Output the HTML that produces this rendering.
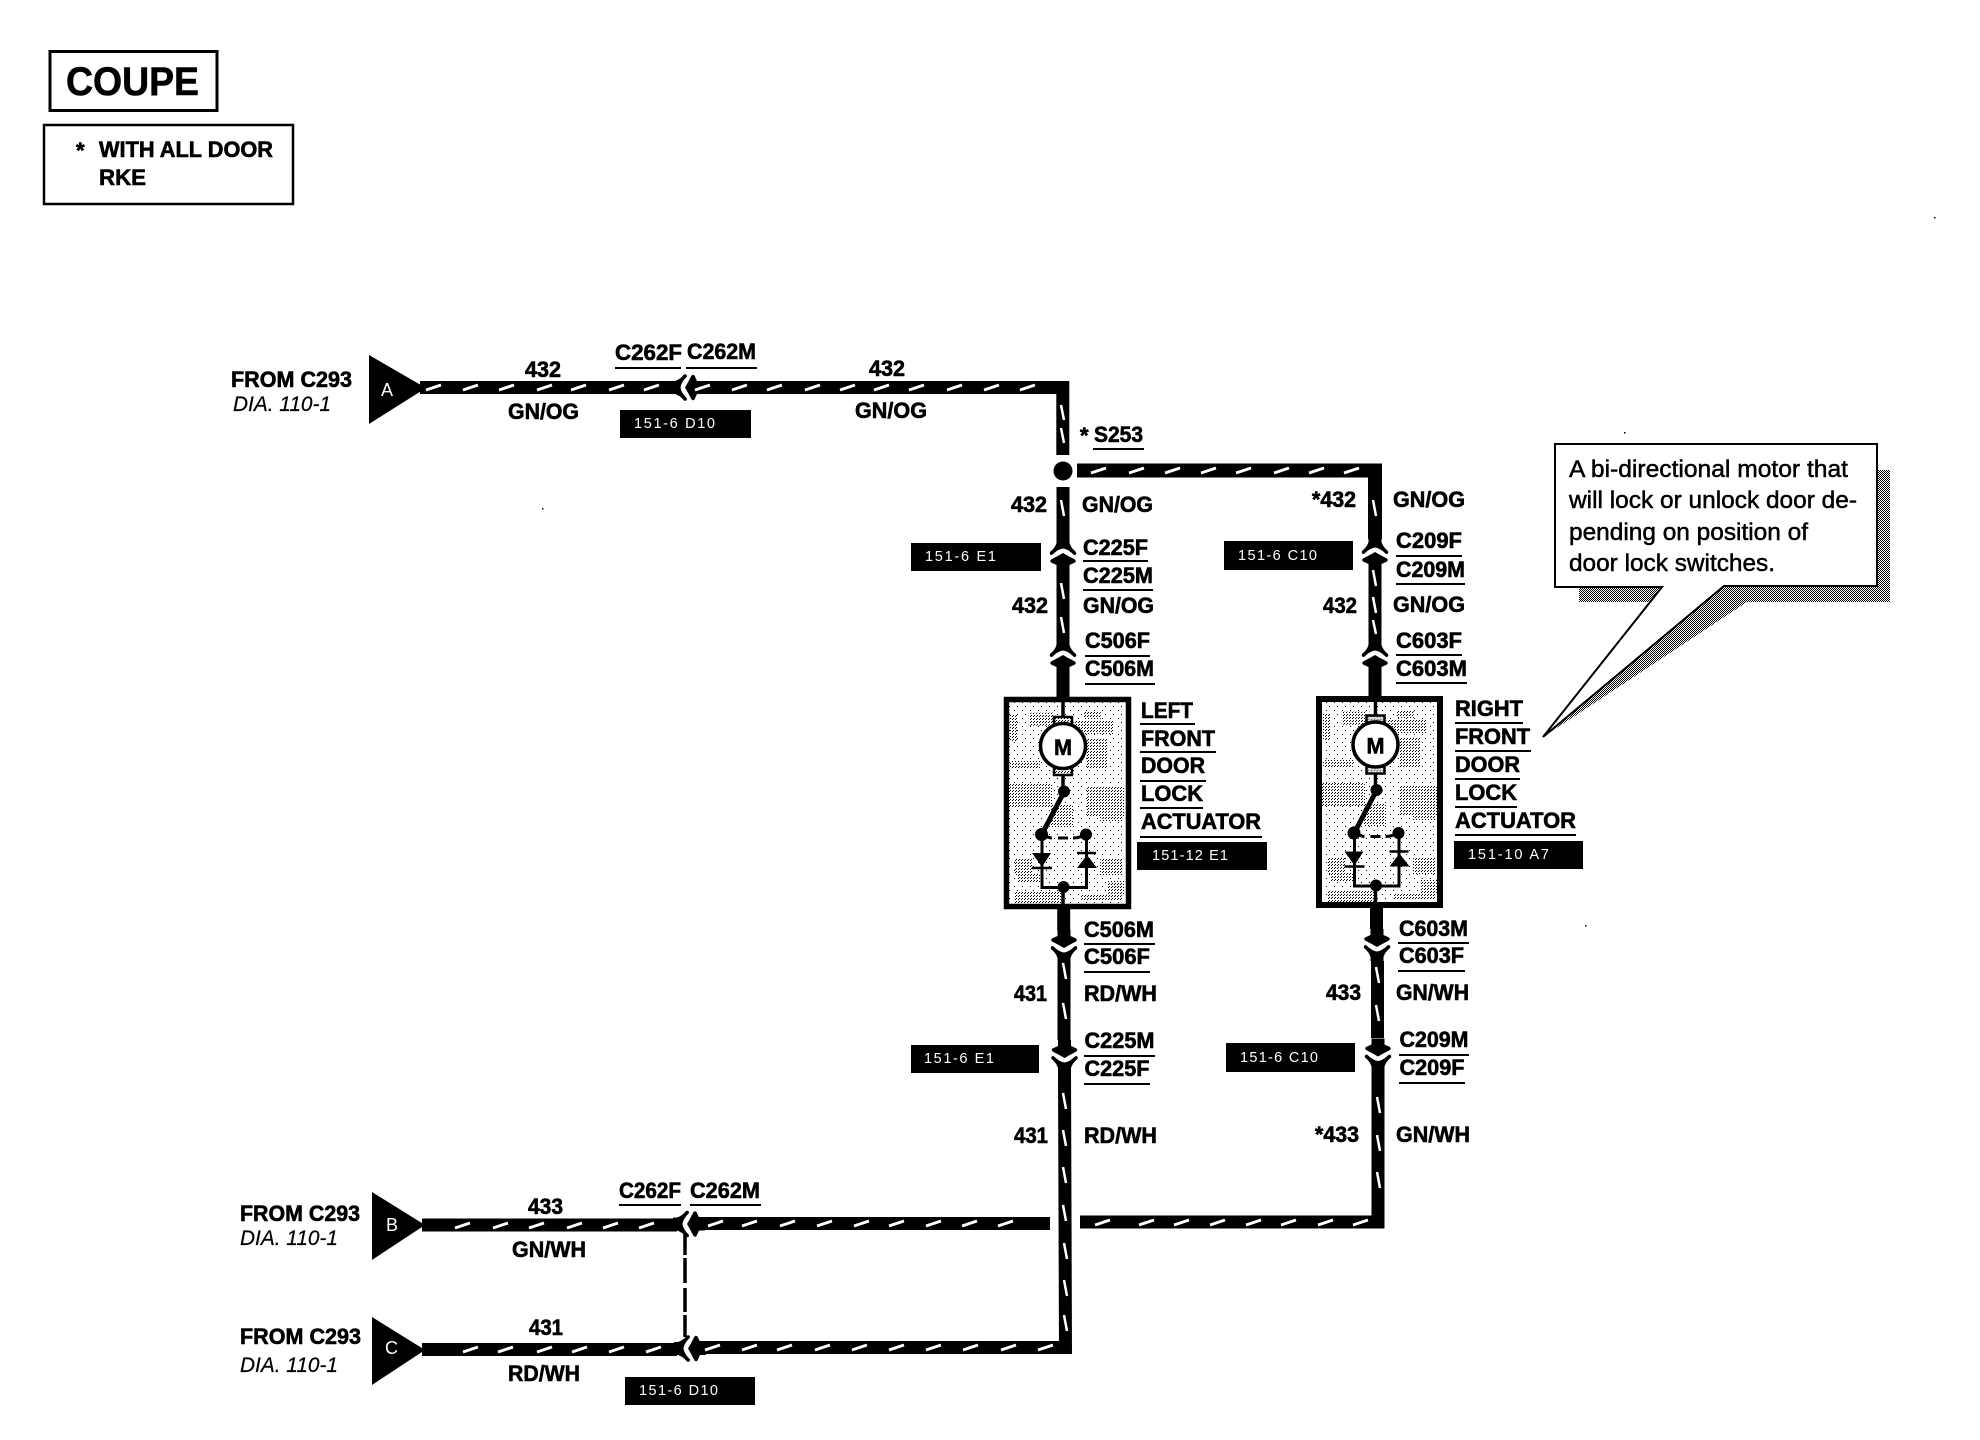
<!DOCTYPE html>
<html>
<head>
<meta charset="utf-8">
<style>
html,body{margin:0;padding:0;background:#fff}
svg{display:block}
text{font-family:"Liberation Sans",sans-serif;fill:#000}
.b{font-weight:700;font-size:22px;stroke:#000;stroke-width:.6}
.i{font-style:italic;font-size:21px;stroke:#000;stroke-width:.2}
.w{fill:#fff;font-size:14.5px}
.l{fill:#fff;font-size:18px}
.c{font-size:24px;stroke:#000;stroke-width:.5}
</style>
</head>
<body>
<svg width="1980" height="1440" viewBox="0 0 1980 1440" xmlns="http://www.w3.org/2000/svg">
<defs>
<pattern id="ck" width="2" height="2" patternUnits="userSpaceOnUse"><rect width="2" height="2" fill="#fff"/><rect width="1" height="1" fill="#000"/><rect x="1" y="1" width="1" height="1" fill="#000"/></pattern>
<pattern id="sp" width="8" height="8" patternUnits="userSpaceOnUse"><rect width="8" height="8" fill="#fff"/><rect x="1" y="2" width="1" height="1" fill="#000"/><rect x="6" y="6" width="1" height="1" fill="#000"/></pattern>
<pattern id="dn" width="3" height="3" patternUnits="userSpaceOnUse"><rect width="3" height="3" fill="#fff"/><rect width="1" height="1" fill="#000"/><rect x="2" y="1" width="1" height="1" fill="#000"/></pattern>
<g id="conn">
<path d="M-6.5,-18 L-6.5,-12 L-12,-9.5 Q-14,-7.5 -11,-6 Q-5,-3 0,0 Q5,-3 11,-6 Q14,-7.5 12,-9.5 L6.5,-12 L6.5,-18 Z"/>
<path d="M-6.5,14 L-6.5,10 Q-8,5 -13,1 Q-14,-2 -11,-2 Q-5,4 0,4.5 Q5,4 11,-2 Q14,-2 13,1 Q8,5 6.5,10 L6.5,14 Z"/>
</g>
<g id="patch" fill="url(#dn)">
<rect x="1341.7" y="711.7" width="25" height="13"/>
<rect x="1386.7" y="720" width="40" height="13"/>
<rect x="1396.7" y="710" width="17" height="8"/>
<rect x="1323" y="713" width="7" height="27"/>
<rect x="1400" y="737" width="20" height="30"/>
<rect x="1323" y="760" width="30" height="8"/>
<rect x="1322" y="783" width="43" height="23"/>
<rect x="1400" y="785" width="37" height="30"/>
<rect x="1363" y="803" width="23" height="23"/>
<rect x="1413" y="813" width="23" height="7"/>
<rect x="1328" y="857" width="17" height="17"/>
<rect x="1413" y="857" width="23" height="17"/>
<rect x="1330" y="872" width="23" height="10"/>
<rect x="1420" y="880" width="17" height="13"/>
<rect x="1327" y="890" width="47" height="12"/>
<rect x="1393" y="893" width="43" height="7"/>
</g>
<g id="act">
<path d="M1063,699V716M1063,775V792M1063,887V907" stroke="#000" stroke-width="3.5" fill="none"/>
<rect x="1054" y="717" width="18" height="8" fill="url(#dn)" stroke="#000" stroke-width="2.5"/>
<rect x="1054" y="767" width="18" height="8" fill="url(#dn)" stroke="#000" stroke-width="2.5"/>
<circle cx="1063" cy="746" r="22.5" fill="#fff" stroke="#000" stroke-width="3.5"/>
<circle cx="1064" cy="791.5" r="6"/>
<path d="M1064,792L1042,834" stroke="#000" stroke-width="5"/>
<circle cx="1041.5" cy="834.5" r="6.5"/>
<circle cx="1086" cy="834.5" r="6"/>
<path d="M1042,834Q1048,838 1052,838M1058,838H1068M1073,838Q1080,838 1086,834" stroke="#000" stroke-width="3" fill="none"/>
<path d="M1042,834V887.5H1086.5V834" stroke="#000" stroke-width="3" fill="none"/>
<polygon points="1032,853 1051,853 1042,867"/>
<path d="M1032,868H1052M1077,853H1096" stroke="#000" stroke-width="2.5"/>
<polygon points="1077,868 1097,868 1087,855"/>
<circle cx="1063.5" cy="887" r="6"/>
</g>
</defs>
<rect width="1980" height="1440" fill="#fff"/>

<!-- header boxes -->
<rect x="50" y="51.5" width="167" height="59" fill="#fff" stroke="#000" stroke-width="3"/>
<text class="b" x="66" y="95" textLength="133" lengthAdjust="spacingAndGlyphs" style="font-size:40px">COUPE</text>
<rect x="44" y="125" width="249" height="79" fill="#fff" stroke="#000" stroke-width="2.5"/>
<text class="b" x="76" y="158">*</text>
<text class="b" x="99" y="157" textLength="174" lengthAdjust="spacingAndGlyphs">WITH ALL DOOR</text>
<text class="b" x="99" y="185" textLength="47" lengthAdjust="spacingAndGlyphs">RKE</text>

<!-- wires -->
<g fill="none" stroke="#000" stroke-width="13" stroke-linejoin="miter">
<path d="M420,387.5H672M693,387.5H1062.8V455"/>
<path d="M1063,487V540M1063,570V641M1063,672V697"/>
<path d="M1077,470.5H1375V539" stroke-width="14"/>
<path d="M1375,570V641M1375,672V697"/>
<path d="M1063.7,909V930M1064,962V1040M1064.5,1072L1065.5,1354"/>
<path d="M1376.5,908V929M1377.5,961V1038M1378,1070V1222H1080"/>
<path d="M422,1225H677M698,1223.5H1050"/>
<path d="M422,1349.5H677M698,1347.5H1071.5"/>
</g>
<circle cx="1063" cy="471" r="9.5"/>
<polygon points="369,355 426,388 369,424"/>
<polygon points="372,1192 425,1225 372,1260"/>
<polygon points="372,1317 425,1350 372,1385"/>

<!-- connectors -->
<use href="#conn" transform="translate(1063,553) rotate(180)"/>
<use href="#conn" transform="translate(1063,655) rotate(180)"/>
<use href="#conn" transform="translate(1375,552) rotate(180)"/>
<use href="#conn" transform="translate(1375,655) rotate(180)"/>
<use href="#conn" transform="translate(1064,948)"/>
<use href="#conn" transform="translate(1064.5,1058)"/>
<use href="#conn" transform="translate(1377,947)"/>
<use href="#conn" transform="translate(1378,1056.5)"/>
<use href="#conn" transform="translate(685,387.5) rotate(90)"/>
<use href="#conn" transform="translate(687,1224) rotate(90)"/>
<use href="#conn" transform="translate(688,1348.5) rotate(90)"/>
<path d="M685,1233V1255M685,1258V1283M685,1288V1312M685,1315V1337" stroke="#000" stroke-width="3.5" fill="none"/>

<!-- wire dashes -->
<path fill="none" stroke="#fff" stroke-width="3" d="M426,390l15,-5M463,390l15,-5M499,390l15,-5M537,390l15,-5M571,390l15,-5M609,390l15,-5M644,390l15,-5M695,390l15,-5M732,390l15,-5M767,390l15,-5M805,390l15,-5M840,390l15,-5M874,390l15,-5M909,390l15,-5M947,390l15,-5M984,390l15,-5M1020,390l15,-5
M1091,473l15,-5M1129,473l15,-5M1165,473l15,-5M1201,473l15,-5M1236,473l15,-5M1274,473l15,-5M1309,473l15,-5M1344,473l15,-5
M455,1228l15,-5M493,1228l15,-5M529,1228l15,-5M567,1228l15,-5M603,1228l15,-5M639,1228l15,-5M708,1226l15,-5M742,1226l15,-5M780,1226l15,-5M817,1226l15,-5M854,1226l15,-5M889,1226l15,-5M926,1226l15,-5M962,1226l15,-5M998,1226l15,-5
M1095,1225l15,-5M1139,1225l15,-5M1174,1225l15,-5M1210,1225l15,-5M1246,1225l15,-5M1281,1225l15,-5M1318,1225l15,-5M1353,1225l15,-5
M463,1352l15,-5M498,1352l15,-5M537,1352l15,-5M572,1352l15,-5M609,1352l15,-5M646,1352l15,-5M705,1350l15,-5M742,1350l15,-5M777,1350l15,-5M815,1350l15,-5M852,1350l15,-5M889,1350l15,-5M926,1350l15,-5M963,1350l15,-5M1001,1350l15,-5M1038,1350l15,-5"/>
<path fill="none" stroke="#fff" stroke-width="2.5" d="M1061,405l3,15M1061,428l3,15M1061,500l3,16M1061,583l3,16M1061,617l3,16
M1063,963l3,16M1063,1003l3,16M1063,1093l3,16M1063,1130l3,16M1063,1167l3,16M1063,1205l3,16M1064,1243l3,16M1064,1280l3,16M1064,1315l3,16
M1373,500l3,16M1373,570l3,16M1373,597l3,16M1373,620l3,14
M1376,967l3,16M1376,1005l3,16M1377,1097l3,16M1377,1135l3,16M1377,1172l3,16"/>

<!-- actuators -->
<rect x="1006.5" y="699.5" width="122" height="207" fill="url(#sp)" stroke="#000" stroke-width="5.5"/>
<use href="#patch" transform="translate(-313,1)"/>
<use href="#act"/>
<rect x="1319" y="699" width="121" height="206" fill="url(#sp)" stroke="#000" stroke-width="6"/>
<use href="#patch"/>
<use href="#act" transform="translate(312.5,-1.5)"/>
<text class="b" x="1054" y="755" textLength="18" lengthAdjust="spacingAndGlyphs">M</text>
<text class="b" x="1366.5" y="753.5" textLength="18" lengthAdjust="spacingAndGlyphs">M</text>

<!-- callout -->
<path d="M1877,470H1890V602H1747L1543,737L1724,586H1877Z" fill="url(#ck)"/>
<rect x="1579" y="586" width="83" height="16" fill="url(#ck)"/>
<path d="M1555,444H1877V586H1724L1543,737L1662,587H1555Z" fill="#fff" stroke="#000" stroke-width="2"/>
<text class="c" x="1569" y="477" textLength="279" lengthAdjust="spacingAndGlyphs">A bi-directional motor that</text>
<text class="c" x="1569" y="508" textLength="288" lengthAdjust="spacingAndGlyphs">will lock or unlock door de-</text>
<text class="c" x="1569" y="540" textLength="239" lengthAdjust="spacingAndGlyphs">pending on position of</text>
<text class="c" x="1569" y="571" textLength="206" lengthAdjust="spacingAndGlyphs">door lock switches.</text>

<!-- black reference tags -->
<g>
<rect x="620" y="410" width="131" height="28"/>
<rect x="911" y="543" width="130" height="28"/>
<rect x="1224" y="541" width="129" height="29"/>
<rect x="1137" y="842" width="130" height="28"/>
<rect x="1454" y="841" width="129" height="28"/>
<rect x="911" y="1045" width="128" height="28"/>
<rect x="1226" y="1043" width="129" height="29"/>
<rect x="625" y="1377" width="130" height="28"/>
</g>
<text class="w" x="634" y="428" textLength="81" lengthAdjust="spacing">151-6 D10</text>
<text class="w" x="925" y="561" textLength="71" lengthAdjust="spacing">151-6 E1</text>
<text class="w" x="1238" y="560" textLength="79" lengthAdjust="spacing">151-6 C10</text>
<text class="w" x="1152" y="860" textLength="76" lengthAdjust="spacing">151-12 E1</text>
<text class="w" x="1468" y="859" textLength="81" lengthAdjust="spacing">151-10 A7</text>
<text class="w" x="924" y="1063" textLength="70" lengthAdjust="spacing">151-6 E1</text>
<text class="w" x="1240" y="1062" textLength="78" lengthAdjust="spacing">151-6 C10</text>
<text class="w" x="639" y="1395" textLength="79" lengthAdjust="spacing">151-6 D10</text>

<!-- triangle letters -->
<text class="l" x="381" y="396">A</text>
<text class="l" x="386" y="1231">B</text>
<text class="l" x="385" y="1354">C</text>

<!-- left labels -->
<text class="b" x="231" y="387" textLength="121" lengthAdjust="spacingAndGlyphs">FROM C293</text>
<text class="i" x="233" y="411" textLength="98" lengthAdjust="spacingAndGlyphs">DIA. 110-1</text>
<text class="b" x="240" y="1221" textLength="120" lengthAdjust="spacingAndGlyphs">FROM C293</text>
<text class="i" x="240" y="1245" textLength="98" lengthAdjust="spacingAndGlyphs">DIA. 110-1</text>
<text class="b" x="240" y="1344" textLength="121" lengthAdjust="spacingAndGlyphs">FROM C293</text>
<text class="i" x="240" y="1372" textLength="98" lengthAdjust="spacingAndGlyphs">DIA. 110-1</text>

<!-- top wire labels -->
<text class="b" x="525" y="377" textLength="36" lengthAdjust="spacingAndGlyphs">432</text>
<text class="b" x="508" y="419" textLength="71" lengthAdjust="spacingAndGlyphs">GN/OG</text>
<text class="b" x="615" y="360" textLength="67" lengthAdjust="spacingAndGlyphs">C262F</text>
<text class="b" x="687" y="359" textLength="69" lengthAdjust="spacingAndGlyphs">C262M</text>
<text class="b" x="869" y="376" textLength="36" lengthAdjust="spacingAndGlyphs">432</text>
<text class="b" x="855" y="418" textLength="72" lengthAdjust="spacingAndGlyphs">GN/OG</text>

<text class="b" x="1080" y="443">*</text>
<text class="b" x="1094" y="442" textLength="49" lengthAdjust="spacingAndGlyphs">S253</text>

<!-- left column upper -->
<text class="b" x="1011" y="512" textLength="36" lengthAdjust="spacingAndGlyphs">432</text>
<text class="b" x="1082" y="512" textLength="71" lengthAdjust="spacingAndGlyphs">GN/OG</text>
<text class="b" x="1083" y="555" textLength="65" lengthAdjust="spacingAndGlyphs">C225F</text>
<text class="b" x="1083" y="583" textLength="70" lengthAdjust="spacingAndGlyphs">C225M</text>
<text class="b" x="1012" y="613" textLength="36" lengthAdjust="spacingAndGlyphs">432</text>
<text class="b" x="1083" y="613" textLength="71" lengthAdjust="spacingAndGlyphs">GN/OG</text>
<text class="b" x="1085" y="648" textLength="65" lengthAdjust="spacingAndGlyphs">C506F</text>
<text class="b" x="1085" y="676" textLength="69" lengthAdjust="spacingAndGlyphs">C506M</text>

<!-- right column upper -->
<text class="b" x="1312" y="507" textLength="44" lengthAdjust="spacingAndGlyphs">*432</text>
<text class="b" x="1393" y="507" textLength="72" lengthAdjust="spacingAndGlyphs">GN/OG</text>
<text class="b" x="1396" y="548" textLength="66" lengthAdjust="spacingAndGlyphs">C209F</text>
<text class="b" x="1396" y="577" textLength="69" lengthAdjust="spacingAndGlyphs">C209M</text>
<text class="b" x="1323" y="613" textLength="34" lengthAdjust="spacingAndGlyphs">432</text>
<text class="b" x="1393" y="612" textLength="72" lengthAdjust="spacingAndGlyphs">GN/OG</text>
<text class="b" x="1396" y="648" textLength="66" lengthAdjust="spacingAndGlyphs">C603F</text>
<text class="b" x="1396" y="676" textLength="71" lengthAdjust="spacingAndGlyphs">C603M</text>

<!-- actuator labels -->
<text class="b" x="1141" y="718" textLength="52" lengthAdjust="spacingAndGlyphs">LEFT</text>
<text class="b" x="1141" y="746" textLength="74" lengthAdjust="spacingAndGlyphs">FRONT</text>
<text class="b" x="1141" y="773" textLength="64" lengthAdjust="spacingAndGlyphs">DOOR</text>
<text class="b" x="1141" y="801" textLength="62" lengthAdjust="spacingAndGlyphs">LOCK</text>
<text class="b" x="1141" y="829" textLength="120" lengthAdjust="spacingAndGlyphs">ACTUATOR</text>
<text class="b" x="1455" y="716" textLength="68" lengthAdjust="spacingAndGlyphs">RIGHT</text>
<text class="b" x="1455" y="744" textLength="75" lengthAdjust="spacingAndGlyphs">FRONT</text>
<text class="b" x="1455" y="772" textLength="65" lengthAdjust="spacingAndGlyphs">DOOR</text>
<text class="b" x="1455" y="800" textLength="62" lengthAdjust="spacingAndGlyphs">LOCK</text>
<text class="b" x="1455" y="828" textLength="121" lengthAdjust="spacingAndGlyphs">ACTUATOR</text>

<!-- lower columns -->
<text class="b" x="1084" y="937" textLength="70" lengthAdjust="spacingAndGlyphs">C506M</text>
<text class="b" x="1084" y="964" textLength="66" lengthAdjust="spacingAndGlyphs">C506F</text>
<text class="b" x="1014" y="1001" textLength="33" lengthAdjust="spacingAndGlyphs">431</text>
<text class="b" x="1084" y="1001" textLength="73" lengthAdjust="spacingAndGlyphs">RD/WH</text>
<text class="b" x="1084.5" y="1048" textLength="70" lengthAdjust="spacingAndGlyphs">C225M</text>
<text class="b" x="1084.5" y="1076" textLength="65" lengthAdjust="spacingAndGlyphs">C225F</text>
<text class="b" x="1014" y="1143" textLength="34" lengthAdjust="spacingAndGlyphs">431</text>
<text class="b" x="1084" y="1143" textLength="73" lengthAdjust="spacingAndGlyphs">RD/WH</text>
<text class="b" x="1399" y="936" textLength="69" lengthAdjust="spacingAndGlyphs">C603M</text>
<text class="b" x="1399" y="963" textLength="65" lengthAdjust="spacingAndGlyphs">C603F</text>
<text class="b" x="1326" y="1000" textLength="35" lengthAdjust="spacingAndGlyphs">433</text>
<text class="b" x="1396" y="1000" textLength="73" lengthAdjust="spacingAndGlyphs">GN/WH</text>
<text class="b" x="1399.5" y="1047" textLength="69" lengthAdjust="spacingAndGlyphs">C209M</text>
<text class="b" x="1399.5" y="1075" textLength="65" lengthAdjust="spacingAndGlyphs">C209F</text>
<text class="b" x="1315" y="1142" textLength="44" lengthAdjust="spacingAndGlyphs">*433</text>
<text class="b" x="1396" y="1142" textLength="74" lengthAdjust="spacingAndGlyphs">GN/WH</text>

<!-- bottom wire labels -->
<text class="b" x="528" y="1214" textLength="35" lengthAdjust="spacingAndGlyphs">433</text>
<text class="b" x="512" y="1257" textLength="74" lengthAdjust="spacingAndGlyphs">GN/WH</text>
<text class="b" x="619" y="1198" textLength="62" lengthAdjust="spacingAndGlyphs">C262F</text>
<text class="b" x="690" y="1198" textLength="70" lengthAdjust="spacingAndGlyphs">C262M</text>
<text class="b" x="529" y="1335" textLength="34" lengthAdjust="spacingAndGlyphs">431</text>
<text class="b" x="508" y="1381" textLength="72" lengthAdjust="spacingAndGlyphs">RD/WH</text>

<!-- underlines -->
<path fill="none" stroke="#000" stroke-width="2" d="M615,368H681M686,368H757M1093,449H1144
M1083,561H1148M1083,590H1153M1085,656H1150M1085,684H1155
M1396,556H1462M1396,584H1465M1396,655H1462M1396,683H1467
M1140,724H1195M1140,752H1216M1140,781H1206M1140,808H1203M1140,837H1262
M1455,723H1523M1455,751H1531M1455,779H1520M1455,807H1517M1455,835H1576
M1084,944H1155M1084,972H1150M1084,1056H1155M1084,1084H1150
M1398,943H1469M1398,971H1465M1399,1055H1469M1399,1083H1465
M619,1205H681M690,1205H761"/>

<!-- specks -->
<rect x="542" y="508" width="1.5" height="1.5"/>
<rect x="1934" y="217" width="1.5" height="1.5"/>
<rect x="1624" y="432" width="1.5" height="1.5"/>
<rect x="1585" y="925" width="1.5" height="1.5"/>
</svg>
</body>
</html>
